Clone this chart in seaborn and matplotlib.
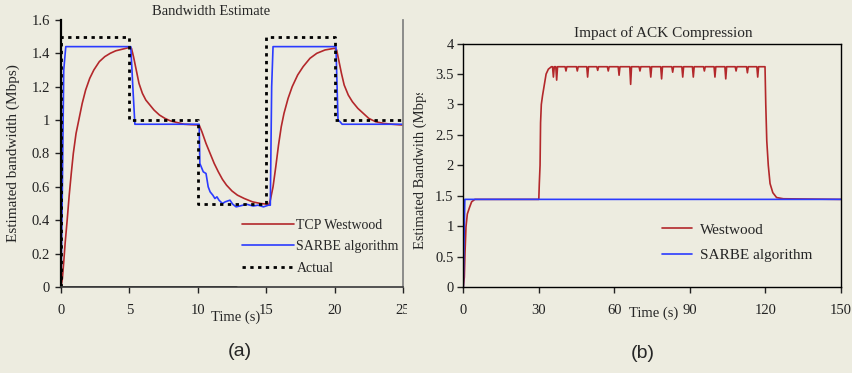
import matplotlib
matplotlib.use("Agg")
import matplotlib.pyplot as plt
import seaborn as sns
import pandas as pd
from matplotlib.transforms import Bbox, TransformedBbox

# ---- data ----
# (a) Bandwidth Estimate
west_a_t = [0, 0.1, 0.2, 0.3, 0.45, 0.6, 0.75, 0.9, 1.1, 1.3, 1.55, 1.8, 2.1, 2.4, 2.8, 3.2, 3.6, 4.0, 4.5, 5.0,
            5.15, 5.3, 5.5, 5.7, 5.95, 6.2, 6.5, 6.8, 7.2, 7.6, 8.0, 8.5, 9.0, 10.1,
            10.3, 10.6, 10.9, 11.2, 11.5, 11.8, 12.1, 12.5, 12.9, 13.4, 14.0, 14.6, 15.2,
            15.3, 15.5, 15.7, 15.9, 16.1, 16.3, 16.6, 16.9, 17.3, 17.7, 18.2, 18.7, 19.3, 20.0,
            20.15, 20.3, 20.5, 20.7, 21.0, 21.3, 21.7, 22.1, 22.5, 23.0, 23.6, 24.2, 25.0]
west_a_v = [0, 0.05, 0.15, 0.26, 0.4, 0.55, 0.68, 0.8, 0.92, 1.0, 1.1, 1.18, 1.25, 1.3, 1.35, 1.38, 1.4, 1.415, 1.425, 1.435,
            1.43, 1.38, 1.3, 1.22, 1.16, 1.12, 1.09, 1.06, 1.03, 1.01, 0.995, 0.985, 0.975, 0.97,
            0.93, 0.86, 0.8, 0.74, 0.69, 0.645, 0.61, 0.575, 0.55, 0.53, 0.51, 0.5, 0.495,
            0.52, 0.6, 0.72, 0.85, 0.96, 1.04, 1.13, 1.2, 1.27, 1.32, 1.37, 1.4, 1.42, 1.43,
            1.42, 1.36, 1.28, 1.21, 1.15, 1.11, 1.07, 1.04, 1.01, 0.99, 0.98, 0.975, 0.97]

sarbe_a_t = [0, 0.1, 0.2, 0.35, 5.1, 5.25, 5.4, 10.1, 10.15, 10.4, 10.6, 10.76, 10.9, 11.1, 11.25, 11.4,
             11.55, 11.8, 12.0, 12.35, 12.55, 12.8, 13.3, 13.6, 14.05, 14.4, 14.8, 15.15, 15.3, 15.4,
             15.5, 20.1, 20.25, 20.4, 20.55, 25]
sarbe_a_v = [0, 0.6, 1.3, 1.44, 1.44, 1.2, 0.975, 0.975, 0.74, 0.69, 0.68, 0.6, 0.57, 0.55, 0.53, 0.54,
             0.52, 0.5, 0.51, 0.52, 0.496, 0.48, 0.49, 0.495, 0.485, 0.49, 0.48, 0.49, 0.49, 1.2,
             1.44, 1.44, 1.0, 0.99, 0.975, 0.975]

actual_t = [0, 0, 5, 5, 10, 10, 15, 15, 20, 20, 25]
actual_v = [0, 1.5, 1.5, 1.0, 1.0, 0.5, 0.5, 1.5, 1.5, 1.0, 1.0]

base_t = [0, 12.8]
base_v = [0, 0]

# (b) Impact of ACK Compression
west_b_rise_t = [0, 0.4, 0.66, 1.06, 1.6, 2.4, 3.3, 4.6, 30.0, 30.2, 30.5, 30.7, 31.0, 31.5, 32.1, 32.9, 33.8, 35.0]
west_b_rise_v = [0, 0.16, 0.55, 0.99, 1.2, 1.3, 1.4, 1.44, 1.44, 1.7, 2.0, 2.7, 3.0, 3.15, 3.3, 3.5, 3.58, 3.62]
dip_t = [35.8, 37.1, 40.8, 45.3, 49.4, 53.4, 57.6, 61.9, 66.5, 70.2, 74.5, 78.8,
         83.2, 87.2, 91.4, 95.8, 100.0, 104.3, 108.4, 112.9, 117.0]
dip_v = [3.45, 3.4, 3.55, 3.55, 3.45, 3.56, 3.55, 3.48, 3.33, 3.55, 3.45, 3.42,
         3.53, 3.45, 3.45, 3.55, 3.45, 3.42, 3.55, 3.52, 3.45]
plateau = 3.62
west_b_fall_t = [119.9, 120.2, 120.6, 121.2, 121.9, 123.0, 124.5, 127.2, 150]
west_b_fall_v = [3.62, 3.0, 2.4, 2.0, 1.7, 1.55, 1.47, 1.45, 1.44]

sarbe_b_t = [0, 0.3, 0.6, 150]
sarbe_b_v = [0, 0.8, 1.44, 1.44]

# assemble the westwood (b) trace
wb_t, wb_v = list(west_b_rise_t), list(west_b_rise_v)
for t, v in zip(dip_t, dip_v):
    wb_t += [t - 0.35, t, t + 0.35]
    wb_v += [plateau, v, plateau]
wb_t += west_b_fall_t
wb_v += west_b_fall_v

bg = "#EDECE0"
red = "#B3282B"
blue = "#2B3BFF"

sns.set_theme(style="ticks")
plt.rcParams["font.family"] = ["Liberation Serif", "DejaVu Serif"]
plt.rcParams["axes.facecolor"] = bg

fig = plt.figure(figsize=(8.52, 3.73), dpi=100, facecolor=bg)
ax1 = fig.add_axes([0.0716, 0.2306, 0.4014, 0.716])
ax2 = fig.add_axes([0.5438, 0.2306, 0.443, 0.6525])

# --- panel (a) ---
sns.lineplot(data=pd.DataFrame({"t": base_t, "v": base_v}), x="t", y="v", ax=ax1,
             color="black", lw=2, estimator=None, sort=False, legend=False)
sns.lineplot(data=pd.DataFrame({"t": west_a_t, "v": west_a_v}), x="t", y="v", ax=ax1,
             color=red, lw=1.2, estimator=None, sort=False, label="TCP Westwood")
sns.lineplot(data=pd.DataFrame({"t": sarbe_a_t, "v": sarbe_a_v}), x="t", y="v", ax=ax1,
             color=blue, lw=1.2, estimator=None, sort=False, label="SARBE algorithm")
sns.lineplot(data=pd.DataFrame({"t": actual_t, "v": actual_v}), x="t", y="v", ax=ax1,
             color="black", lw=2, linestyle=(0, (1.2, 1.6)), estimator=None, sort=False, label="Actual")

ax1.set_xlim(0, 25)
ax1.set_ylim(0, 1.6)
ax1.set_xticks([0, 5, 10, 15, 20, 25])
ax1.set_yticks([0, 0.2, 0.4, 0.6, 0.8, 1.0, 1.2, 1.4, 1.6])
ax1.set_yticklabels(["0", "0.2", "0.4", "0.6", "0.8", "1", "1.2", "1.4", "1.6"])
ax1.tick_params(axis="x", direction="out", length=4, width=1, labelsize=10.5, pad=8, colors="#222222")
ax1.tick_params(axis="y", direction="out", length=4, width=1, labelsize=10.5, pad=4, colors="#222222")
ax1.spines["top"].set_visible(False)
ax1.spines["right"].set_color("#808080")
ax1.spines["left"].set_color("black")
ax1.spines["left"].set_linewidth(1.6)
ax1.spines["bottom"].set_color("#404040")
ax1.set_xlabel("Time (s)", fontsize=10.5)
ax1.xaxis.set_label_coords(0.512, -0.112)
ax1.xaxis.label.set_va("center")
ax1.set_ylabel("Estimated bandwidth (Mbps)", fontsize=11)
ax1.yaxis.set_label_coords(-0.14, 0.5)
ax1.yaxis.label.set_va("center")
ax1.text(0.44, 1.03, "Bandwidth Estimate", transform=ax1.transAxes,
         ha="center", va="center", fontsize=10.5)
ax1.legend(loc="upper left", bbox_to_anchor=(0.53, 0.255), frameon=False, fontsize=10,
           handlelength=3.7, handletextpad=0.2, labelspacing=0.6, borderpad=0, borderaxespad=0)

clip_a = TransformedBbox(Bbox([[0, 0], [407 / 852, 1]]), fig.transFigure)
for lbl in ax1.get_xticklabels():
    lbl.set_clip_box(clip_a)
    lbl.set_clip_on(True)

# --- panel (b) ---
sns.lineplot(data=pd.DataFrame({"t": wb_t, "v": wb_v}), x="t", y="v", ax=ax2,
             color=red, lw=1.2, estimator=None, sort=False, label="Westwood")
sns.lineplot(data=pd.DataFrame({"t": sarbe_b_t, "v": sarbe_b_v}), x="t", y="v", ax=ax2,
             color=blue, lw=1.2, estimator=None, sort=False, label="SARBE algorithm")

ax2.set_xlim(0, 150)
ax2.set_ylim(0, 4)
ax2.set_xticks([0, 30, 60, 90, 120, 150])
ax2.set_yticks([0, 0.5, 1, 1.5, 2, 2.5, 3, 3.5, 4])
ax2.set_yticklabels(["0", "0.5", "1", "1.5", "2", "2.5", "3", "3.5", "4"])
ax2.tick_params(axis="x", direction="out", length=4, width=1, labelsize=10.5, pad=8, colors="#222222")
ax2.tick_params(axis="y", direction="out", length=4, width=1, labelsize=10.5, pad=3, colors="#222222")
for s in ax2.spines.values():
    s.set_color("black")
    s.set_linewidth(1)
ax2.set_xlabel("Time (s)", fontsize=10.5)
ax2.xaxis.set_label_coords(0.503, -0.107)
ax2.xaxis.label.set_va("center")
ax2.set_ylabel("Estimated Bandwith (Mbps)", fontsize=10.5)
ax2.yaxis.set_label_coords(-0.115, 0.493)
ax2.yaxis.label.set_va("center")
clip_b = TransformedBbox(Bbox([[0, 0], [1, (373 - 93) / 373]]), fig.transFigure)
ax2.yaxis.label.set_clip_box(clip_b)
ax2.yaxis.label.set_clip_on(True)
ax2.text(0.529, 1.044, "Impact of ACK Compression", transform=ax2.transAxes,
         ha="center", va="center", fontsize=11)
ax2.legend(loc="upper left", bbox_to_anchor=(0.527, 0.263), frameon=False, fontsize=11,
           handlelength=1.96, handletextpad=0.5, labelspacing=0.77, borderpad=0, borderaxespad=0)

fig.text(240 / 852, 1 - 352 / 373, "(a)", ha="center", va="center", fontsize=14,
         family=["Liberation Sans", "DejaVu Sans"])
fig.text(643 / 852, 1 - 353 / 373, "(b)", ha="center", va="center", fontsize=14,
         family=["Liberation Sans", "DejaVu Sans"])

fig.savefig("out.png", dpi=100, facecolor=bg)
